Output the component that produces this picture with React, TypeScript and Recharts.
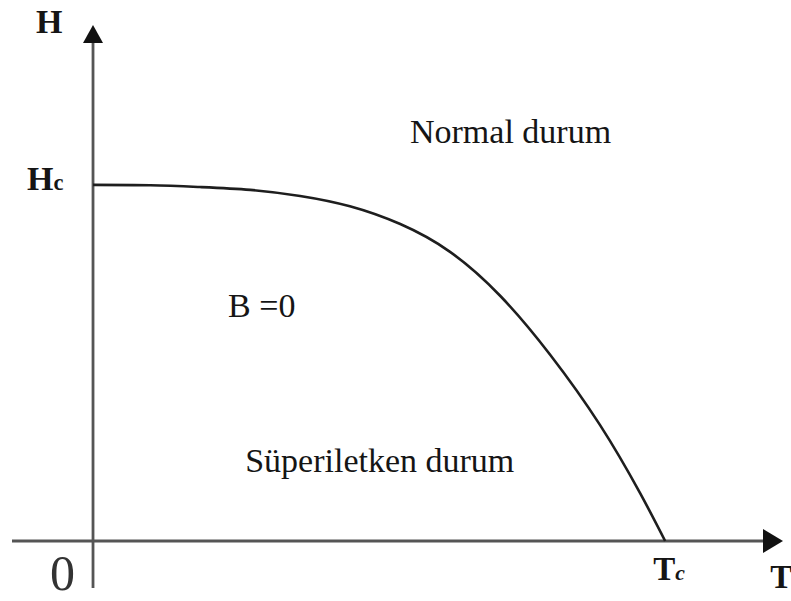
import { LineChart, Line, XAxis, YAxis, ReferenceLine, ReferenceDot } from "recharts"

// critical field curve, T / Tc against H / Hc
const tRatio = [0, 0.1, 0.187, 0.275, 0.362, 0.449, 0.537, 0.624, 0.712, 0.799, 0.886, 0.956, 1]
const hRatio = [1, 0.999, 0.994, 0.986, 0.969, 0.94, 0.89, 0.812, 0.688, 0.523, 0.326, 0.135, 0]

const tMin = -0.1416
const tMax = 1.206
const hMin = -0.132
const hMax = 1.449

const data = tRatio.map((t, i) => ({ t, h: hRatio[i] }))

const serif = "'Liberation Serif', 'Times New Roman', serif"

type ArrowProps = { x1?: number; y1?: number; x2?: number; y2?: number }

const arrowShape = (len: number, half: number) => (p: ArrowProps) => {
  const x1 = Number(p.x1), y1 = Number(p.y1), x2 = Number(p.x2), y2 = Number(p.y2)
  const d = Math.hypot(x2 - x1, y2 - y1) || 1
  const ux = (x2 - x1) / d, uy = (y2 - y1) / d
  const bx = x2 - ux * len, by = y2 - uy * len
  const pts = `${x2},${y2} ${bx - uy * half},${by + ux * half} ${bx + uy * half},${by - ux * half}`
  return (
    <g>
      <line x1={x1} y1={y1} x2={bx} y2={by} stroke="#555" strokeWidth={2.8} />
      <polygon points={pts} fill="#111" />
    </g>
  )
}

type Note = { t: number; h: number; text: string; sub?: string; size: number; bold?: boolean; italicSub?: boolean; fill?: string }

const notes: Note[] = [
  { t: -0.0997, h: 1.427, text: "H", size: 34, bold: true },
  { t: -0.1154, h: 0.986, text: "H", sub: "c", size: 34, bold: true },
  { t: -0.0752, h: -0.1376, text: "0", size: 50, fill: "#333" },
  { t: 0.979, h: -0.1096, text: "T", sub: "c", size: 33, bold: true, italicSub: true },
  { t: 1.1836, h: -0.132, text: "T", size: 33, bold: true },
  { t: 0.554, h: 1.118, text: "Normal durum", size: 34 },
  { t: 0.236, h: 0.629, text: "B =0", size: 34 },
  { t: 0.266, h: 0.194, text: "Süperiletken durum", size: 34 },
]

const noteShape = (n: Note) => (p: { cx?: number; cy?: number }) => (
  <text
    x={p.cx}
    y={p.cy}
    fontFamily={serif}
    fontSize={n.size}
    fontWeight={n.bold ? 700 : 400}
    fill={n.fill ?? "#151515"}
  >
    {n.text}
    {n.sub && (
      <tspan fontSize={n.size * 0.66} fontStyle={n.italicSub ? "italic" : "normal"}>
        {n.sub}
      </tspan>
    )}
  </text>
)

export default function App() {
  return (
    <div style={{ position: "absolute", left: 0, top: 0, width: 791, height: 601, background: "#fff" }}>
      <LineChart width={791} height={601} data={data} margin={{ top: 25, right: 8, bottom: 13, left: 12 }}>
        <XAxis type="number" dataKey="t" domain={[tMin, tMax]} allowDataOverflow hide />
        <YAxis type="number" domain={[hMin, hMax]} allowDataOverflow hide />
        <ReferenceLine
          segment={[{ x: tMin, y: 0 }, { x: tMax, y: 0 }]}
          shape={arrowShape(20, 12)}
          ifOverflow="visible"
        />
        <ReferenceLine
          segment={[{ x: 0, y: hMin }, { x: 0, y: hMax }]}
          shape={arrowShape(18, 10)}
          ifOverflow="visible"
        />
        <Line
          type="natural"
          dataKey="h"
          stroke="#1e1e1e"
          strokeWidth={2.6}
          dot={false}
          isAnimationActive={false}
        />
        {notes.map((n, i) => (
          <ReferenceDot key={i} x={n.t} y={n.h} r={0} ifOverflow="visible" shape={noteShape(n)} />
        ))}
      </LineChart>
    </div>
  )
}
